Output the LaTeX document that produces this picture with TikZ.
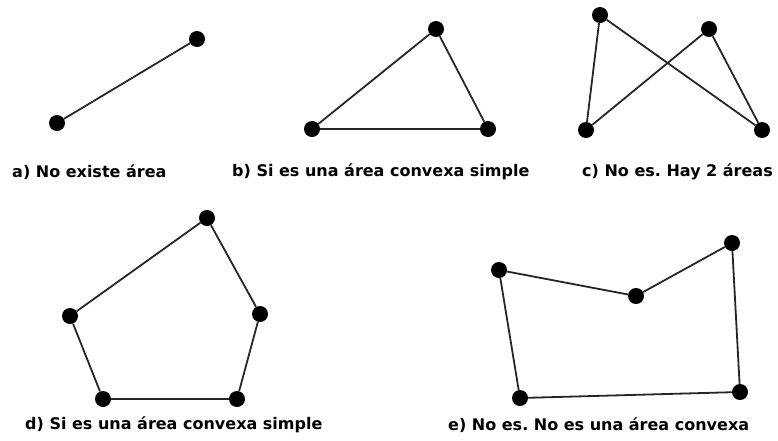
\documentclass[tikz,border=0pt]{standalone}
\usepackage{fontspec}
\setmainfont{DejaVu Sans}
\frenchspacing
\begin{document}
\begin{tikzpicture}[x=1pt,y=-1pt,
  pt/.style={circle,fill=black,inner sep=0pt,minimum size=16pt},
  edge/.style={draw=black!85,line width=1.8pt},
  lbl/.style={anchor=west,inner sep=0pt,font=\bfseries\fontsize{16}{18}\selectfont}]
\useasboundingbox (0,0) rectangle (778,440);
% a) segment
\node[pt] (a1) at (197,39) {};
\node[pt] (a2) at (57,123) {};
\draw[edge] (a1) -- (a2);
\node[lbl] (la) at (12,172) {a) No existe área};
% b) triangle
\node[pt] (b1) at (436,29) {};
\node[pt] (b2) at (312,129) {};
\node[pt] (b3) at (488,129) {};
\draw[edge] (b1) -- (b2) -- (b3) -- (b1);
\node[lbl] (lb) at (232,172) {b) Si es una área convexa simple};
% c) crossed quadrilateral
\node[pt] (c1) at (600,15) {};
\node[pt] (c2) at (709,29) {};
\node[pt] (c3) at (586,130) {};
\node[pt] (c4) at (762,130) {};
\draw[edge] (c1) -- (c3) -- (c2) -- (c4) -- (c1);
\node[lbl] (lc) at (582,172) {c) No es. Hay 2 áreas};
% d) convex pentagon
\node[pt] (d1) at (207,218) {};
\node[pt] (d2) at (70,316) {};
\node[pt] (d3) at (103,399) {};
\node[pt] (d4) at (237,399) {};
\node[pt] (d5) at (260,314) {};
\draw[edge] (d1) -- (d2) -- (d3) -- (d4) -- (d5) -- (d1);
\node[lbl] (ld) at (25,425) {d) Si es una área convexa simple};
% e) concave pentagon
\node[pt] (e1) at (499,270) {};
\node[pt] (e2) at (636,296) {};
\node[pt] (e3) at (732,243) {};
\node[pt] (e4) at (740,392) {};
\node[pt] (e5) at (520,398) {};
\draw[edge] (e1) -- (e2) -- (e3) -- (e4) -- (e5) -- (e1);
\node[lbl] (le) at (448,425) {e) No es. No es una área convexa};
\end{tikzpicture}
\end{document}
